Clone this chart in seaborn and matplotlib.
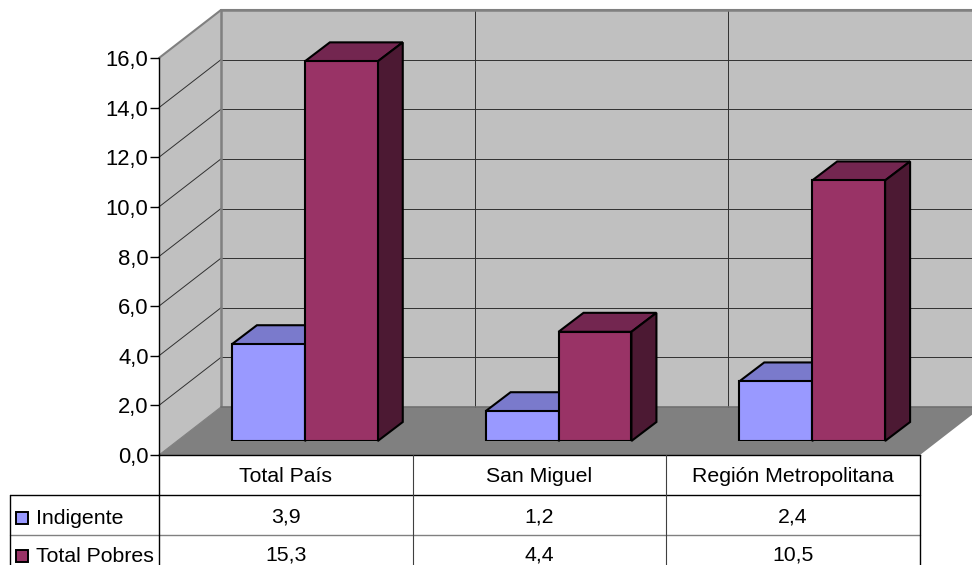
import matplotlib
matplotlib.use('Agg')
import matplotlib.pyplot as plt
from matplotlib.patches import Polygon, Rectangle
from matplotlib.lines import Line2D
from matplotlib.transforms import Affine2D, blended_transform_factory
import numpy as np
import pandas as pd
import seaborn as sns

categories = ['Total País', 'San Miguel', 'Región Metropolitana']
series_names = ['Indigente', 'Total Pobres']
indigente = [3.9, 1.2, 2.4]
total_pobres = [15.3, 4.4, 10.5]
y_ticks = [0, 2, 4, 6, 8, 10, 12, 14, 16]

W, H = 972, 565
# front plane of the fake 3d box, in pixels
X0, X1, Y0, Y16 = 159, 920, 455, 58
WALL_DX, WALL_DY = 62, 48
BAR_DX, BAR_DY = 19, 14
DEPTH_DX, DEPTH_DY = 25, 19

sns.set_theme(style='ticks')
plt.rcParams['font.family'] = ['Liberation Sans', 'DejaVu Sans']
FS = 15.3

fig = plt.figure(figsize=(W / 100, H / 100), dpi=100, facecolor='white')
px = Affine2D().scale(1 / W, -1 / H).translate(0, 1) + fig.transFigure


def make_axes(left, right, bottom, top):
    ax = fig.add_axes([left / W, 1 - bottom / H, (right - left) / W, (bottom - top) / H])
    ax.set_facecolor('none')
    ax.set_xlim(-0.5, 2.5)
    ax.set_ylim(0, 16)
    return ax


def poly(points, color, zorder=-2):
    fig.add_artist(Polygon(points, closed=True, facecolor=color, edgecolor='none',
                           transform=px, zorder=zorder))


def line(xs, ys, color='black', lw=0.8, zorder=-1):
    fig.add_artist(Line2D(xs, ys, color=color, lw=lw, transform=px, zorder=zorder))


# walls and floor
right_end = X1 + WALL_DX
poly([(X0, Y16), (X0 + WALL_DX, Y16 - WALL_DY), (X0 + WALL_DX, Y0 - WALL_DY), (X0, Y0)], '#c0c0c0')
poly([(X0 + WALL_DX, Y16 - WALL_DY), (right_end, Y16 - WALL_DY), (right_end, Y0 - WALL_DY),
      (X0 + WALL_DX, Y0 - WALL_DY)], '#c0c0c0')
poly([(X0, Y0), (X1, Y0), (right_end, Y0 - WALL_DY), (X0 + WALL_DX, Y0 - WALL_DY)], '#808080')

# gridlines on the walls
for v in y_ticks:
    yp = Y0 - v * (Y0 - Y16) / 16
    if v == 0:
        line([X0, X0 + WALL_DX], [yp, yp - WALL_DY], color='#808080', lw=0.8)
        continue
    if v == 16:
        c, lw = '#808080', 1.5
    else:
        c, lw = '#303030', 0.7
    line([X0, X0 + WALL_DX], [yp, yp - WALL_DY], color=c, lw=lw)
    line([X0 + WALL_DX, right_end], [yp - WALL_DY, yp - WALL_DY], color=c, lw=lw)

cat_w = (X1 - X0) / len(categories)
for i in range(1, len(categories) + 1):
    xp = X0 + WALL_DX + i * cat_w
    line([xp, xp], [Y16 - WALL_DY, Y0 - WALL_DY], color='#303030', lw=0.7)
line([X0 + WALL_DX, X0 + WALL_DX], [Y16 - WALL_DY, Y0 - WALL_DY], color='#808080', lw=1.8)
line([X0 + WALL_DX, right_end], [Y16 - WALL_DY, Y16 - WALL_DY], color='#808080', lw=1.8)
line([X0 + WALL_DX, right_end], [Y0 - WALL_DY, Y0 - WALL_DY], color='#707070', lw=1.2)

# axis in the front plane, the category names sit on it
ax = make_axes(X0, X1, Y0, Y16)
ax.set_yticks(y_ticks)
ax.set_yticklabels([f'{v:.1f}'.replace('.', ',') for v in y_ticks], fontsize=15.8, color='black')
ax.set_xticks(range(len(categories)))
ax.set_xticklabels(categories, fontsize=FS, color='black')
ax.tick_params(axis='y', length=6.5, width=1, color='black', pad=1)
ax.tick_params(axis='x', length=0, pad=9)
ax.spines['top'].set_visible(False)
ax.spines['right'].set_visible(False)
for s in ['left', 'bottom']:
    ax.spines[s].set_color('black')
    ax.spines[s].set_linewidth(1)

# bars stand a bit behind the front plane
df = pd.DataFrame({
    'category': categories * 2,
    'series': [series_names[0]] * 3 + [series_names[1]] * 3,
    'value': indigente + total_pobres,
})
ax_bars = make_axes(X0 + BAR_DX, X1 + BAR_DX, Y0 - BAR_DY, Y16 - BAR_DY)
sns.barplot(data=df, x='category', y='value', hue='series', hue_order=series_names,
            palette=['#9999ff', '#993366'], width=0.575, gap=0, saturation=1,
            edgecolor='black', linewidth=1.5, legend=False, ax=ax_bars, zorder=3)
ax_bars.set_xlim(-0.5, 2.5)
ax_bars.set_ylim(0, 16)
ax_bars.axis('off')

ddx = DEPTH_DX / cat_w
ddy = DEPTH_DY * 16 / (Y0 - Y16)
top_colors = {'#9999ff': '#7a7acc', '#993366': '#732650'}
side_colors = {'#9999ff': '#4c4c80', '#993366': '#4c1933'}
for i, bar in enumerate(ax_bars.patches):
    key = '#9999ff' if i < 3 else '#993366'
    x, w, h = bar.get_x(), bar.get_width(), bar.get_height()
    z = 1 if i < 3 else 2
    ax_bars.add_patch(Polygon([(x, h), (x + w, h), (x + w + ddx, h + ddy), (x + ddx, h + ddy)],
                              closed=True, facecolor=top_colors[key], edgecolor='black',
                              linewidth=1.5, clip_on=False, zorder=z))
    ax_bars.add_patch(Polygon([(x + w, 0), (x + w + ddx, ddy), (x + w + ddx, h + ddy), (x + w, h)],
                              closed=True, facecolor=side_colors[key], edgecolor='black',
                              linewidth=1.5, clip_on=False, zorder=z))

# data table under the chart
T1, T2, T_END, T_LEFT = 495, 535, 565, 10
line([T_LEFT, X1], [T1, T1], lw=1, zorder=2)
line([T_LEFT, X1], [T2, T2], color='#808080', lw=1, zorder=2)
line([T_LEFT, T_LEFT], [T1, T_END], lw=1, zorder=2)
line([X0, X0], [Y0, T_END], lw=1, zorder=2)
line([X1, X1], [Y0, T_END], lw=1, zorder=2)
for i in range(1, len(categories)):
    xp = X0 + i * cat_w
    line([xp, xp], [Y0, T_END], color='#404040', lw=0.8, zorder=2)

cell = blended_transform_factory(ax.transData, px)
for row, (name, vals, col) in enumerate(zip(series_names, [indigente, total_pobres],
                                            ['#9999ff', '#993366'])):
    yc = 518 + row * 38
    fig.add_artist(Rectangle((16, yc - 6), 12, 12, facecolor=col, edgecolor='black',
                             linewidth=1.4, transform=px, zorder=3))
    fig.text(36, yc, name, transform=px, fontsize=FS, va='center', ha='left', color='black')
    for i, v in enumerate(vals):
        ax.text(i, yc - 1, f'{v:.1f}'.replace('.', ','), transform=cell, fontsize=FS,
                ha='center', va='center', color='black', clip_on=False)

fig.savefig('out.png', dpi=100)
